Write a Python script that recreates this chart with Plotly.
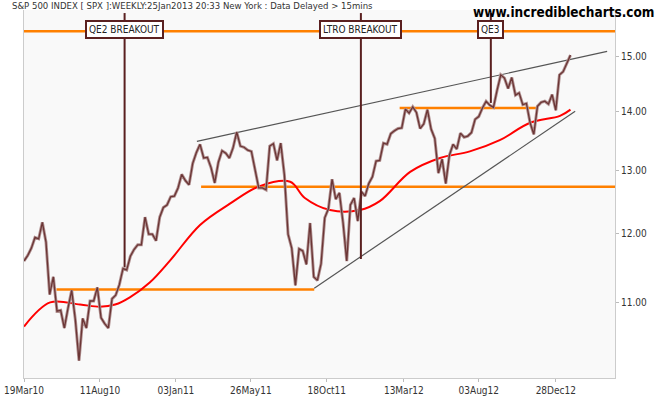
import pandas as pd
import plotly.graph_objects as go

price = [11.59,11.67,11.78,11.94,11.92,12.17,11.87,11.11,11.36,10.88,10.89,10.65,10.92,11.17,10.76,10.22,10.78,10.65,11.02,11.02,11.21,10.79,10.71,10.65,11.05,11.10,11.25,11.48,11.46,11.66,11.76,11.83,11.83,12.25,11.99,11.99,11.89,12.25,12.40,12.44,12.57,12.58,
12.71,12.93,12.83,12.76,13.11,13.29,13.43,13.20,13.21,13.04,12.79,13.13,13.32,13.28,13.20,13.37,13.64,13.40,13.38,13.33,13.31,13.00,12.71,12.71,12.68,13.40,13.44,13.16,13.45,12.92,11.99,11.78,11.24,11.77,11.74,11.54,12.16,11.36,11.31,11.55,12.24,12.38,12.85,12.53,12.63,12.16,11.59,12.44,12.55,12.19,12.65,12.58,
12.78,12.89,13.15,13.16,13.45,13.43,13.61,13.66,13.70,13.71,14.04,13.97,14.08,13.98,13.70,13.78,14.03,13.69,13.53,12.95,13.18,12.78,13.25,13.43,13.35,13.62,13.55,13.57,13.63,13.86,13.91,14.06,14.18,14.11,14.07,14.38,14.66,14.60,14.41,14.61,14.29,14.33,14.12,14.14,13.80,13.60,14.09,14.16,14.18,14.13,14.30,14.02,
14.66,14.72,14.86,15.03]
dates = pd.date_range("2010-03-19", periods=len(price), freq="W-FRI")

ma_dates = ["2010-03-19","2010-05-08","2010-07-04","2010-08-11","2010-09-09","2010-10-07","2010-11-14","2010-12-23","2011-02-18","2011-04-16","2011-06-12","2011-08-09","2011-09-06","2011-10-24","2011-12-20","2012-01-27","2012-03-25","2012-05-21","2012-07-17","2012-09-12","2012-11-09","2013-01-05","2013-01-25"]
ma_vals = [10.67,11.0,10.97,10.94,10.97,11.07,11.28,11.6,12.13,12.46,12.74,12.81,12.55,12.36,12.36,12.5,12.97,13.2,13.31,13.5,13.8,13.92,14.03]

hlines = [("2010-03-10","2013-04-20",15.49),("2010-05-20","2011-09-24",11.18),("2011-02-20","2013-04-20",12.73),("2012-03-05","2012-11-20",14.06)]
trend_x = [["2011-02-12","2013-04-05"],["2011-09-24","2013-02-03"]]
trend_y = [[13.48,15.1],[11.2,14.0]]
ann_labels = ["QE2 BREAKOUT","LTRO BREAKOUT","QE3"]
ann_dates = ["2010-09-27","2011-12-22","2012-08-26"]
ann_vals = [11.5,11.62,14.15]

tick_dates = ["2010-03-19","2010-08-11","2011-01-03","2011-05-26","2011-10-18","2012-03-13","2012-08-03","2012-12-28"]
tick_text = ["19Mar10","11Aug10","03Jan11","26May11","18Oct11","13Mar12","03Aug12","28Dec12"]
y_ticks = [11,12,13,14,15]

F = "DejaVu Sans Condensed, DejaVu Sans"
fig = go.Figure()
for x0,x1,v in hlines:
    fig.add_trace(go.Scatter(x=[x0,x1],y=[v,v],mode="lines",line=dict(color="#ff8000",width=2.5),hoverinfo="skip"))
for tx,ty in zip(trend_x,trend_y):
    fig.add_trace(go.Scatter(x=tx,y=ty,mode="lines",line=dict(color="#555555",width=1.2),hoverinfo="skip"))
fig.add_trace(go.Scatter(x=ma_dates,y=ma_vals,mode="lines",line=dict(color="#ff0000",width=2,shape="spline")))
fig.add_trace(go.Scatter(x=dates,y=price,mode="lines",line=dict(color="#b09090",width=3)))
fig.add_trace(go.Scatter(x=dates,y=price,mode="lines",line=dict(color="#6b3535",width=1.3)))
for lab,d,v in zip(ann_labels,ann_dates,ann_vals):
    fig.add_trace(go.Scatter(x=[d,d],y=[v,15.85],mode="lines",line=dict(color="#5a2020",width=2),hoverinfo="skip"))
    fig.add_annotation(x=d,y=0.972,xref="x",yref="paper",text=lab,showarrow=False,
                       font=dict(family=F,size=10,color="#222"),
                       bgcolor="#ffffff",bordercolor="#5a2020",borderwidth=2,borderpad=2)
fig.add_annotation(x=0,y=1.0,xref="paper",yref="paper",xanchor="left",yanchor="bottom",xshift=-14,yshift=-3,
                   text="S&P 500 INDEX [ SPX ]:WEEKLY:25Jan2013 20:33 New York : Data Delayed > 15mins",
                   showarrow=False,font=dict(family=F,size=9.5,color="#333"))
fig.add_annotation(x=1.0,y=1.0,xref="paper",yref="paper",xanchor="right",yanchor="top",xshift=41,yshift=8,
                   text="<b>www.incrediblecharts.com</b>",showarrow=False,
                   font=dict(family=F,size=13.5,color="#000"))
fig.update_layout(width=660,height=400,showlegend=False,paper_bgcolor="#ffffff",plot_bgcolor="#f9f9f9",
                  margin=dict(l=24,r=45,t=10,b=22,autoexpand=False))
fig.update_xaxes(range=["2010-03-19","2013-04-20"],tickvals=tick_dates,ticktext=tick_text,showgrid=False,
                 ticks="outside",ticklen=3,tickcolor="#bbb",showline=True,linecolor="#ccc",automargin=False,
                 tickfont=dict(family=F,size=10,color="#333"))
fig.update_yaxes(type="log",range=[0.99996,1.2017],side="right",tickvals=y_ticks,ticktext=[f"{v:.2f}" for v in y_ticks],
                 showgrid=False,ticks="outside",ticklen=3,tickcolor="#bbb",showline=True,linecolor="#ccc",mirror=True,automargin=False,
                 tickfont=dict(family=F,size=10,color="#333"))
fig.write_html("out.html", config={"displayModeBar": False}, post_script="document.body.style.margin='0';")
